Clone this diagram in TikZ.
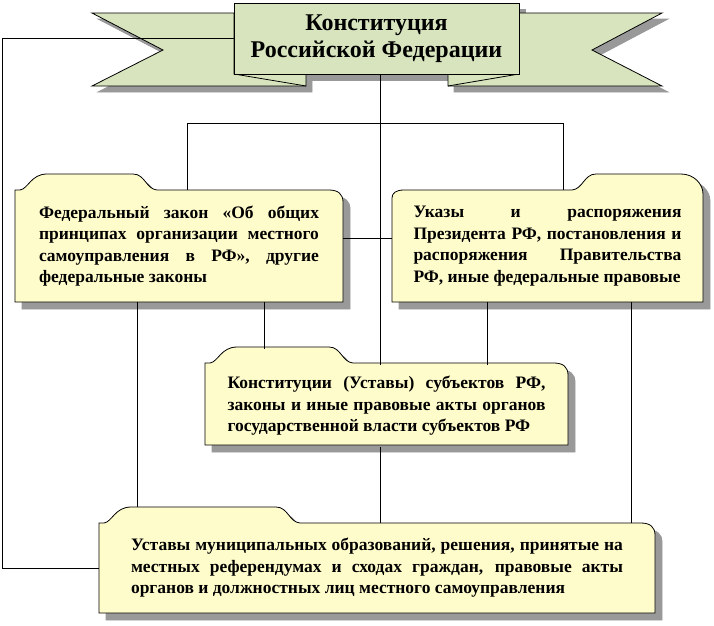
\documentclass[tikz,border=0pt]{standalone}
\usepackage{fontspec}
\setmainfont{Liberation Serif}
\definecolor{ribbongreen}{RGB}{215,228,189}
\colorlet{folderyellow}{yellow!20}
\colorlet{shadowgray}{black!40}
\hyphenpenalty=10000
\exhyphenpenalty=10000
\tolerance=9999

\newcommand{\lefttab}[5]{(#1,#4) -- (#1,#2) -- (#1+5,#2) .. controls (#1+13,#2-1) and (#1+16,#2-16) .. (#1+32,#2-16) -- (#5-24,#2-16) .. controls (#5-12,#2-16) and (#5-11,#2-1) .. (#5,#2) -- (#3-14,#2) .. controls (#3-5,#2) and (#3,#2+4) .. (#3,#2+12) -- (#3,#4) -- cycle}
\newcommand{\righttab}[5]{(#1,#4) -- (#1,#2+8) .. controls (#1,#2+3) and (#1+4,#2) .. (#1+12,#2) -- (#5,#2) .. controls (#5+11,#2-1) and (#5+12,#2-16) .. (#5+24,#2-16) -- (#3-22,#2-16) .. controls (#3-9,#2-16) and (#3,#2-6) .. (#3,#2+4) -- (#3,#4) -- cycle}

\begin{document}
\begin{tikzpicture}[x=1pt,y=-1pt,line width=0.8pt,
        titlebox/.style={fill=ribbongreen, draw, minimum width=285pt, minimum height=71pt, inner sep=0pt, align=center, font=\fontsize{24}{27}\selectfont\bfseries},
        lawtext/.style={inner sep=0pt, align=justify, font=\fontsize{17.5}{21.5}\selectfont\bfseries}]
            \useasboundingbox (0,0) rectangle (714,625);
            \foreach \s/\c/\l in {6/shadowgray/shadowgray,0/ribbongreen/black}{
                \filldraw[fill=\c, draw=\l, shift={(\s,\s)}] (234,3) rectangle (519,74);
                \filldraw[fill=\c, draw=\l, shift={(\s,\s)}] (234,13) -- (92,13) -- (163,50) -- (92,86) -- (306,86) -- (306,74) -- (234,74) -- cycle;
                \filldraw[fill=\c, draw=\l, shift={(\s,\s)}] (519,13) -- (662,13) -- (592,50) -- (662,86) -- (448,86) -- (448,74) -- (519,74) -- cycle;
            }
            \draw (234,74) -- (306,86) (519,74) -- (448,86);
            \node[titlebox] (title) at (376.5,38.5) {Конституция\\Российской Федерации};
            \foreach \s/\c/\l in {7/shadowgray/shadowgray,0/folderyellow/black}{
                \filldraw[fill=\c, draw=\l, shift={(\s,\s)}] \lefttab{15}{190}{343}{302}{157};
                \filldraw[fill=\c, draw=\l, shift={(\s,\s)}] \righttab{392}{190}{703}{302}{572};
                \filldraw[fill=\c, draw=\l, shift={(\s,\s)}] \lefttab{205}{363}{568}{445}{353};
                \filldraw[fill=\c, draw=\l, shift={(\s,\s)}] \lefttab{99}{523}{655}{613}{300};
            }
            \node[lawtext, text width=280pt, minimum width=328pt, minimum height=112pt] (fedlaw) at (179,246)
                {Федеральный закон «Об общих\linebreak принципах организации местного\linebreak самоуправления в РФ», другие\linebreak федеральные законы};
            \node[lawtext, text width=268pt, minimum width=311pt, minimum height=112pt] (decrees) at (547.5,246)
                {Указы и распоряжения\linebreak Президента РФ, постановления и\linebreak распоряжения Правительства\linebreak РФ, иные федеральные правовые};
            \node[lawtext, text width=318pt, minimum width=363pt, minimum height=82pt] (subjects) at (386.5,406)
                {Конституции (Уставы) субъектов РФ,\linebreak законы и иные правовые акты органов\linebreak государственной власти субъектов РФ};
            \node[lawtext, text width=492pt, minimum width=556pt, minimum height=90pt] (municipal) at (377,568)
                {Уставы муниципальных образований, решения, принятые на\linebreak местных референдумах и сходах граждан, правовые акты\linebreak органов и должностных лиц местного самоуправления};
            \coordinate (rail) at (2,0);
            \coordinate (spine) at (380,123);
            \coordinate (forkl) at (187,123);
            \coordinate (forkr) at (563,123);
            \coordinate (cross) at (380,238);
            \draw (title.west) -- (title.west -| rail) |- (municipal.west);
            \draw (title.south -| spine) -- (spine |- subjects.north);
            \draw (fedlaw.north -| forkl) -- (forkl) -- (forkr) -- (decrees.north -| forkr);
            \draw (fedlaw.east |- cross) -- (decrees.west |- cross);
            \foreach \x/\a/\b/\up in {137/fedlaw/municipal/16,264/fedlaw/subjects/16,487/decrees/subjects/0,631/decrees/municipal/0,380/subjects/municipal/0}{
                \coordinate (drop) at (\x,0);
                \draw (\a.south -| drop) -- ([yshift=\up pt]\b.north -| drop);
            }
        \end{tikzpicture}
\end{document}
